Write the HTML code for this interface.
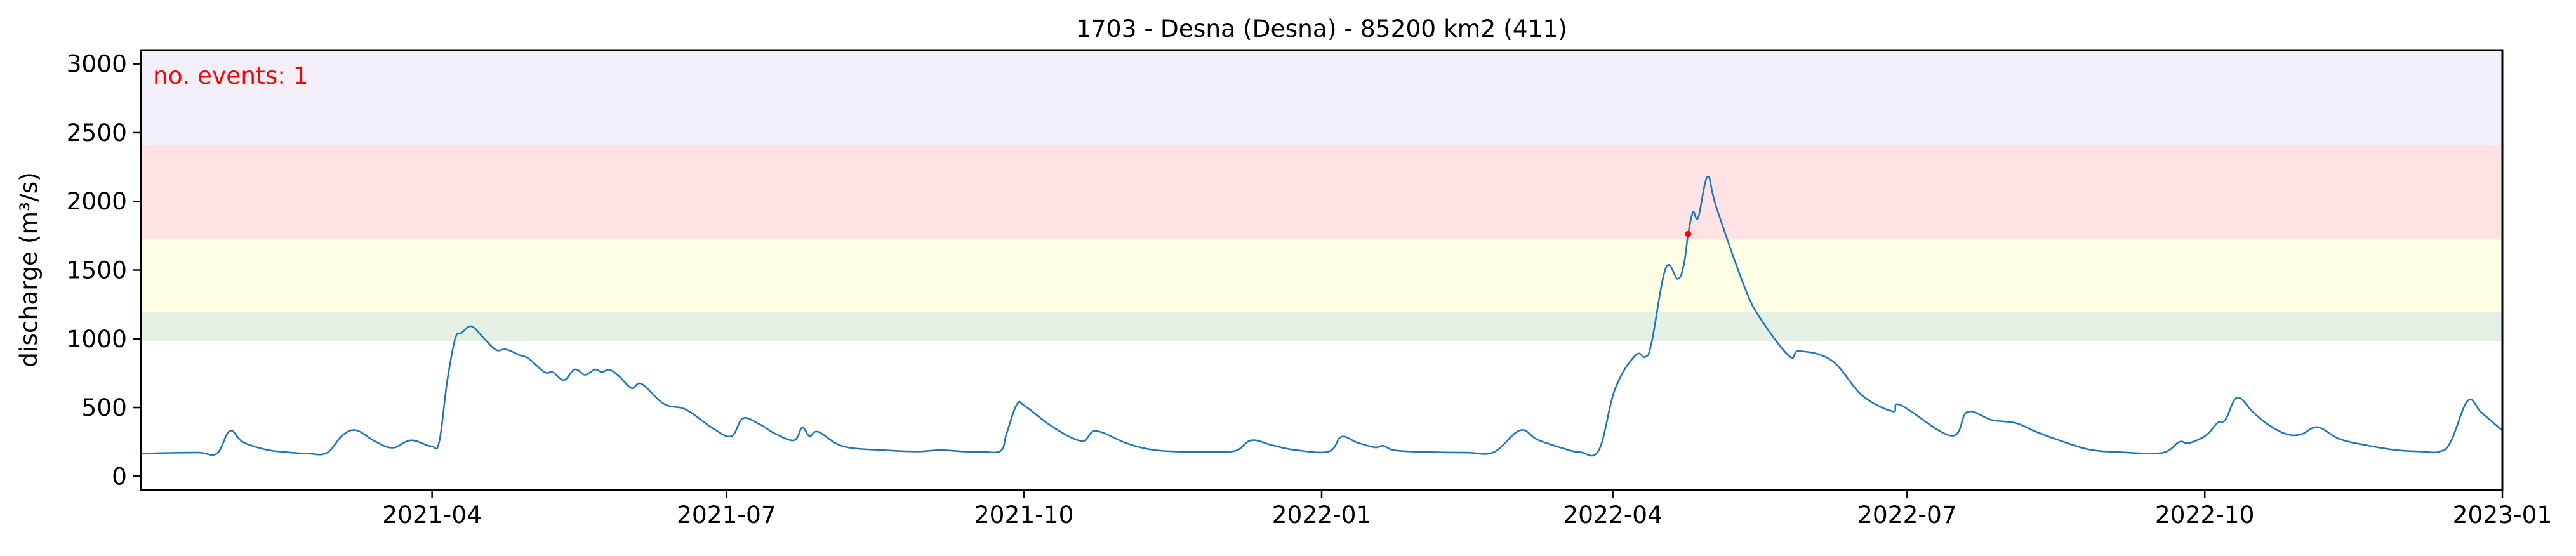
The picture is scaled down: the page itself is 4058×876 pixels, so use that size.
<!DOCTYPE html>
<html><head><meta charset="utf-8"><style>
html,body{margin:0;padding:0;background:#fff;}
svg text{font-family:"DejaVu Sans","Liberation Sans",sans-serif;}
</style></head><body>
<svg id="chart" width="4058" height="871" xmlns="http://www.w3.org/2000/svg">
<g id="bands"></g>
<g id="series"></g>
<g id="axes"></g>
<text x="2082" y="58" font-size="37.5" text-anchor="middle">1703 - Desna (Desna) - 85200 km2 (411)</text>
<text x="241" y="132" font-size="37.5" fill="#ff0000">no. events: 1</text>
<text transform="translate(58,425) rotate(-90)" font-size="37.5" text-anchor="middle">discharge (m³/s)</text>
</svg>
<script>
// days since 2021-01-01 and discharge values
const days = [0.5,9,18,23.5,27.5,31.5,38.4,45,51.5,57.5,62.4,66.6,72.2,77.8,83.5,89.7,92.2,94.7,97.2,99.1,102.2,106,109.8,112.9,117.2,119.8,124.8,127.3,130.8,134.1,137.3,140.4,142.5,144.8,147.9,151.7,154.8,161.7,168.6,177.3,182.6,186.1,191.1,196,201.9,204.4,206.7,209.4,217,229.4,240,247,254.5,260,265.8,267.6,270.8,273.3,282,290.8,295.2,304.6,312.1,320,330,338.3,343.3,349.6,357.1,367.2,371.1,375.9,381.5,384,388.1,400,410,418.2,426.3,431.9,440.7,445,450.7,455.7,462,465.1,467,471.4,475.1,477,478.3,479.8,481.4,484.3,487,495.8,500.8,509.6,512.7,522.7,532.1,541.5,544,559.6,564.6,572.1,579.6,585.6,592.7,602.2,612,624.8,630.1,633.1,638.4,642,644.4,648,652.7,656.9,662.8,667.6,672.9,679.5,687.8,697.3,705,710.4,714,719.3,723.5,729.9];
const values = [164,170,172,166,330,249,195,175,165,170,300,334,256,207,261,218,249,695,1004,1042,1091,1004,919,923,880,857,757,757,700,777,738,777,757,775,726,641,672,526,483,341,292,421,380,311,261,354,292,323,218,190,180,190,180,178,185,310,523,510,357,256,329,241,195,180,178,185,261,226,190,180,287,246,210,222,187,175,172,175,334,264,195,175,190,634,880,868,973,1515,1435,1543,1762,1920,1882,2179,1958,1373,1142,873,911,842,588,472,518,295,468,410,387,326,264,195,175,170,249,241,298,390,411,572,472,387,310,303,357,272,226,190,180,178,249,549,464,335];
const eventDays = [478.3];
const eventValues = [1762];
const bandLows = [983,1196,1722,2408];
const bandHighs = [1196,1722,2408,3100];
const bandColors = ['#e5f0e5','#fefee4','#ffe3e4','#f2eff9'];
const yTicks = [0,500,1000,1500,2000,2500,3000];
const xTickDays = [90,181,273,365,455,546,638,730];
const xTickLabels = ['2021-04','2021-07','2021-10','2022-01','2022-04','2022-07','2022-10','2023-01'];

const L=222,R=3942,T=79,B=772,D0=0,D1=730,V0=-100,V1=3100;
const xs=d=>L+(d-D0)/(D1-D0)*(R-L);
const ys=v=>B-(v-V0)/(V1-V0)*(B-T);
const NS='http://www.w3.org/2000/svg';
function mk(tag,parent,attrs){const e=document.createElementNS(NS,tag);for(const k in attrs)e.setAttribute(k,attrs[k]);parent.appendChild(e);return e;}

const bands=document.getElementById('bands');
bandLows.forEach((lo,i)=>{
  const r=mk('rect',bands,{x:L,y:ys(bandHighs[i]),width:R-L,height:ys(lo)-ys(bandHighs[i]),fill:bandColors[i]});
  
  
});

const series=document.getElementById('series');
const pts=days.map((dd,i)=>[xs(dd),ys(values[i])]);
let d='M'+pts[0][0].toFixed(1)+','+pts[0][1].toFixed(1);
const k=0.18;
for(let i=0;i<pts.length-1;i++){
  const p0=pts[Math.max(0,i-1)],p1=pts[i],p2=pts[i+1],p3=pts[Math.min(pts.length-1,i+2)];
  const c1x=p1[0]+(p2[0]-p0[0])*k,c1y=p1[1]+(p2[1]-p0[1])*k;
  const c2x=p2[0]-(p3[0]-p1[0])*k,c2y=p2[1]-(p3[1]-p1[1])*k;
  d+='C'+c1x.toFixed(1)+','+c1y.toFixed(1)+' '+c2x.toFixed(1)+','+c2y.toFixed(1)+' '+p2[0].toFixed(1)+','+p2[1].toFixed(1);
}
const p=mk('path',series,{d:d,fill:'none',stroke:'#1f77b4','stroke-width':2.6,'stroke-linejoin':'round'});


eventDays.forEach((ed,i)=>{
  const c=mk('circle',series,{cx:xs(ed),cy:ys(eventValues[i]),r:5,fill:'#ff0000'});
  
  
});

const axes=document.getElementById('axes');
const frame=mk('rect',axes,{x:L,y:T,width:R-L,height:B-T,fill:'none',stroke:'#000','stroke-width':3});


yTicks.forEach(v=>{
  const y=ys(v);
  const t=mk('line',axes,{x1:L-13,x2:L,y1:y,y2:y,stroke:'#000','stroke-width':2.5});
  
  
  const tx=mk('text',axes,{x:L-22,y:y+13,'font-size':37.5,'text-anchor':'end'});
  tx.textContent=v;
  
  
});
xTickDays.forEach((dd,i)=>{
  const x=xs(dd);
  const t=mk('line',axes,{x1:x,x2:x,y1:B,y2:B+13,stroke:'#000','stroke-width':2.5});
  
  
  const tx=mk('text',axes,{x:x,y:B+52,'font-size':37.5,'text-anchor':'middle'});
  tx.textContent=xTickLabels[i];
  
  
});
</script>
</body></html>
